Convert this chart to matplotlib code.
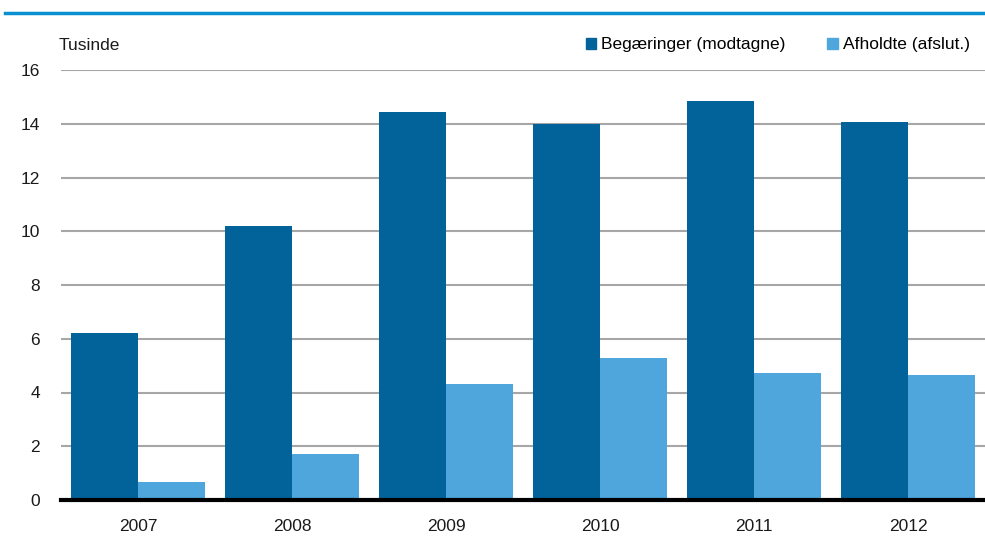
import matplotlib
matplotlib.use('Agg')
import numpy as np
from matplotlib import pyplot as plt
from matplotlib.patches import Rectangle
from matplotlib.lines import Line2D

years = ['2007', '2008', '2009', '2010', '2011', '2012']
begaeringer = [6.21, 10.2, 14.44, 14.0, 14.85, 14.07]
afholdte = [0.67, 1.71, 4.32, 5.28, 4.73, 4.65]
yticks = [0, 2, 4, 6, 8, 10, 12, 14, 16]

dark = '#02639a'
light = '#4ea6dc'

plt.rcParams['font.family'] = ['Liberation Sans Narrow', 'Liberation Sans', 'DejaVu Sans']

fig = plt.figure(figsize=(9.85, 5.44), dpi=100)
ax = fig.add_axes([61/985, 44/544, 924/985, 430/544])

x = np.arange(len(years))
w = 0.435
ax.bar(x - w/2, begaeringer, w, color=dark, zorder=3)
ax.bar(x + w/2, afholdte, w, color=light, zorder=3)

ax.set_xlim(-0.5, 5.5)
ax.set_ylim(0, 16)
ax.set_yticks(yticks)
ax.set_xticks(x)
ax.set_xticklabels(years)
ax.yaxis.grid(True, color='#a6a6a6', linewidth=1.5, zorder=0)
ax.tick_params(axis='both', length=0, labelsize=12.5, colors='#1a1a1a')
ax.tick_params(axis='y', pad=15)
ax.tick_params(axis='x', pad=14)
for s in ['top', 'right', 'left']:
    ax.spines[s].set_visible(False)
ax.spines['bottom'].set_linewidth(3)
ax.spines['bottom'].set_color('black')
ax.spines['bottom'].set_zorder(4)

fig.text(59/985, 1 - 45/544, 'Tusinde', fontsize=12.5, va='center', ha='left', color='#1a1a1a')

# legend
handles = [Rectangle((0, 0), 1, 1, color=dark), Rectangle((0, 0), 1, 1, color=light)]
fig.legend(handles, ['Begæringer (modtagne)', 'Afholdte (afslut.)'],
           loc='center right', bbox_to_anchor=(970/985, 1 - 45/544), ncol=2,
           frameon=False, fontsize=12.5, handlelength=0.6, handleheight=0.6,
           handletextpad=0.3, columnspacing=2.4, borderaxespad=0, borderpad=0)

# top rule
fig.add_artist(Line2D([5/985, 1], [1 - 13/544, 1 - 13/544], color='#0a8fd0', linewidth=2.5))

fig.savefig('out.png', dpi=100)
